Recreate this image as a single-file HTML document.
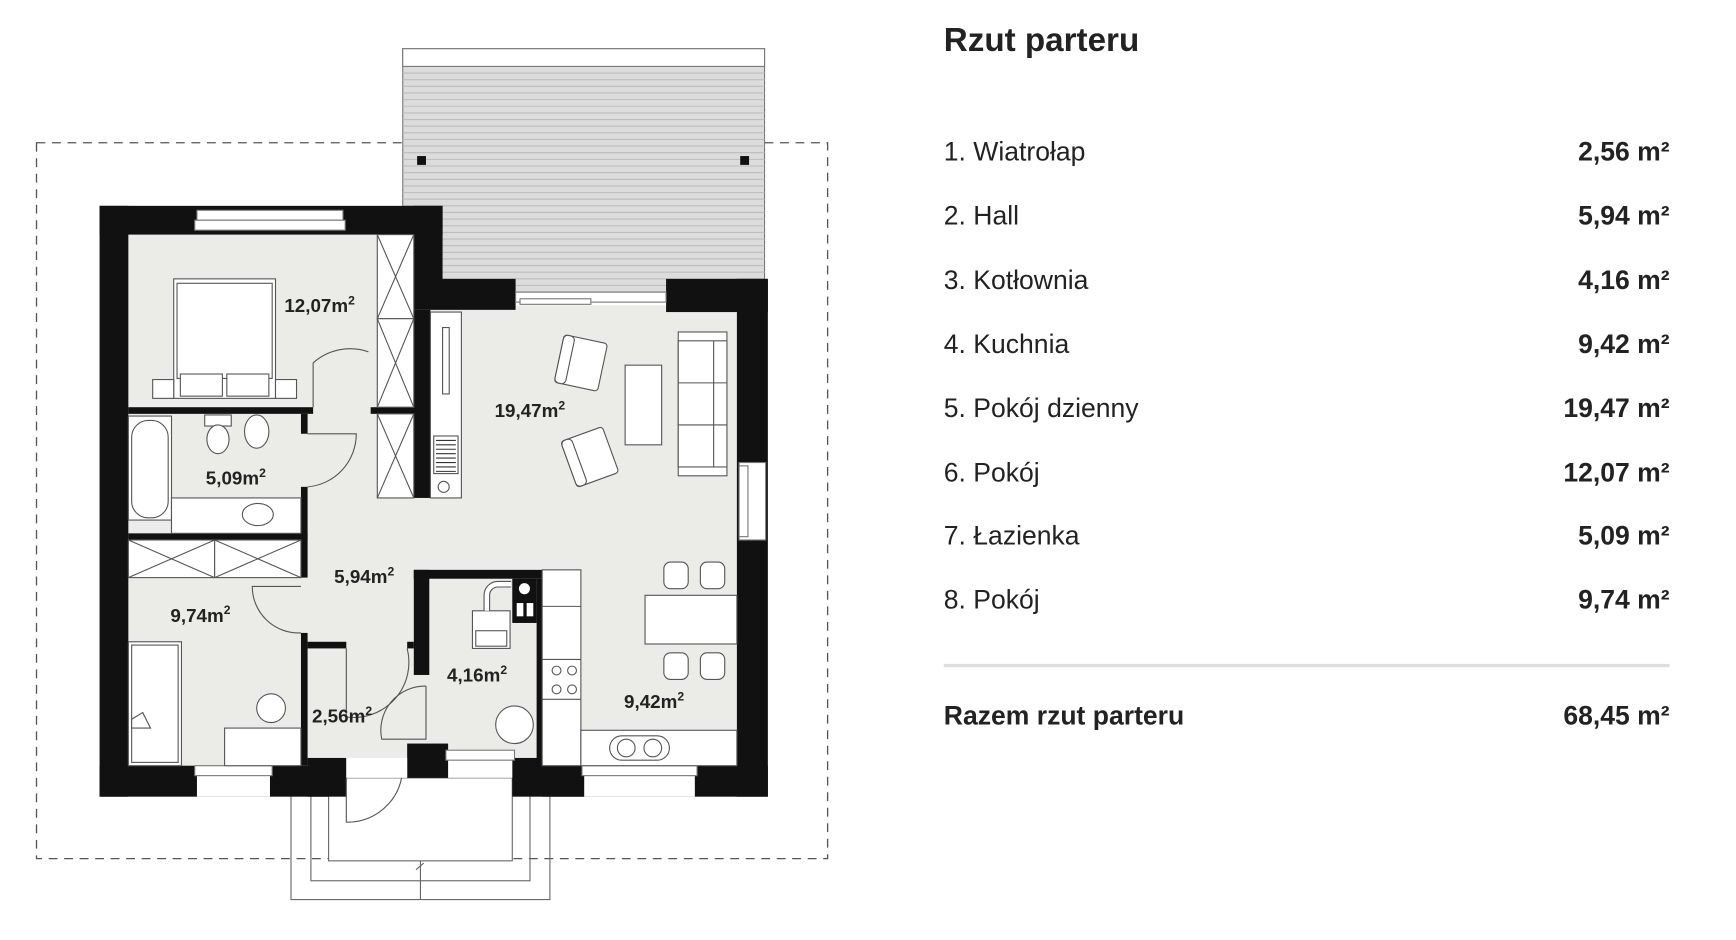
<!DOCTYPE html>
<html><head><meta charset="utf-8"><style>
html,body{margin:0;padding:0;background:#fff;}
svg{display:block;}
text{font-family:"Liberation Sans",sans-serif;}
</style></head><body>
<svg width="1736" height="940" viewBox="0 0 1569 849.5" xmlns="http://www.w3.org/2000/svg">
<rect width="1570" height="850" fill="#fff"/>
<!-- dashed roof outline -->
<rect x="33" y="129" width="715" height="647" fill="none" stroke="#555" stroke-width="1.2" stroke-dasharray="8,6"/>
<!-- terrace -->
<rect x="364" y="44" width="327" height="220" fill="#dcdcdc" stroke="#777" stroke-width="1"/>
<rect x="364" y="44" width="327" height="16" fill="#fff" stroke="#777" stroke-width="1"/>
<g stroke="#bdbdbd" stroke-width="1">
<line x1="364" y1="66" x2="691" y2="66"/><line x1="364" y1="72" x2="691" y2="72"/><line x1="364" y1="78" x2="691" y2="78"/><line x1="364" y1="84" x2="691" y2="84"/><line x1="364" y1="90" x2="691" y2="90"/><line x1="364" y1="96" x2="691" y2="96"/><line x1="364" y1="102" x2="691" y2="102"/><line x1="364" y1="108" x2="691" y2="108"/><line x1="364" y1="114" x2="691" y2="114"/><line x1="364" y1="120" x2="691" y2="120"/><line x1="364" y1="126" x2="691" y2="126"/><line x1="364" y1="132" x2="691" y2="132"/><line x1="364" y1="138" x2="691" y2="138"/><line x1="364" y1="144" x2="691" y2="144"/><line x1="364" y1="150" x2="691" y2="150"/><line x1="364" y1="156" x2="691" y2="156"/><line x1="364" y1="162" x2="691" y2="162"/><line x1="364" y1="168" x2="691" y2="168"/><line x1="364" y1="174" x2="691" y2="174"/><line x1="364" y1="180" x2="691" y2="180"/><line x1="364" y1="186" x2="691" y2="186"/><line x1="364" y1="192" x2="691" y2="192"/><line x1="364" y1="198" x2="691" y2="198"/><line x1="364" y1="204" x2="691" y2="204"/><line x1="364" y1="210" x2="691" y2="210"/><line x1="364" y1="216" x2="691" y2="216"/><line x1="364" y1="222" x2="691" y2="222"/><line x1="364" y1="228" x2="691" y2="228"/><line x1="364" y1="234" x2="691" y2="234"/><line x1="364" y1="240" x2="691" y2="240"/><line x1="364" y1="246" x2="691" y2="246"/><line x1="364" y1="252" x2="691" y2="252"/><line x1="364" y1="258" x2="691" y2="258"/>
</g>
<rect x="377" y="141" width="8" height="8" fill="#111"/><rect x="669" y="141" width="8" height="8" fill="#111"/>
<!-- porch -->
<g fill="none" stroke="#666" stroke-width="1">
<rect x="263" y="703" width="234" height="110"/>
<rect x="281" y="703" width="198" height="93"/>
<rect x="297" y="703" width="166" height="75" fill="#fff"/>
<line x1="380" y1="778" x2="380" y2="813"/><line x1="376" y1="786" x2="383" y2="780"/>
</g>
<!-- floor -->
<path d="M116 212H374V276H666V692H116Z" fill="#ebebe8"/>
<rect x="374" y="186" width="26" height="70" fill="#111"/>
<!-- outer walls -->
<g fill="#111">
<rect x="90" y="186" width="26" height="534"/>
<rect x="90" y="186" width="310" height="26"/>
<rect x="374" y="252" width="92" height="28"/>
<rect x="602" y="252" width="92" height="30"/>
<rect x="666" y="252" width="28" height="468"/>
<rect x="90" y="692" width="207" height="28"/>
<rect x="278" y="685" width="35" height="35"/>
<rect x="368" y="672" width="37" height="31"/>
<rect x="405" y="678" width="58" height="25"/>
<rect x="463" y="685" width="65" height="35"/>
<rect x="490" y="692" width="204" height="28"/>
<!-- interior -->
<rect x="116" y="368" width="167" height="6"/>
<rect x="335" y="368" width="54" height="6"/>
<rect x="374" y="280" width="15" height="170"/>
<rect x="272" y="374" width="6" height="18"/>
<rect x="272" y="440" width="6" height="48"/>
<rect x="116" y="482" width="162" height="6"/>
<rect x="272" y="488" width="6" height="34"/>
<rect x="272" y="572" width="6" height="120"/>
<rect x="278" y="580" width="35" height="6"/>
<rect x="368" y="580" width="6" height="6"/>
<rect x="374" y="515" width="14" height="95"/>
<rect x="374" y="515" width="116" height="8"/>
<rect x="485" y="523" width="5" height="169"/>
</g>
<!-- windows -->
<g fill="#fff" stroke="#777" stroke-width="1">
<rect x="178" y="190" width="132" height="9"/><rect x="176" y="199" width="136" height="9"/>
<rect x="466" y="264" width="136" height="9"/><rect x="470" y="270" width="64" height="5"/>
<rect x="668" y="418" width="24" height="70"/><rect x="668" y="421" width="8" height="64"/>
<rect x="178" y="700" width="66" height="20" stroke="none"/><rect x="176" y="692" width="70" height="9"/>
<rect x="405" y="686" width="58" height="17" stroke="none"/><rect x="403" y="678" width="62" height="9"/>
<rect x="528" y="700" width="100" height="20" stroke="none"/><rect x="526" y="692" width="104" height="9"/>
<rect x="313" y="685" width="55" height="18" stroke="none"/>
</g>
<!-- furniture -->
<g fill="#fff" stroke="#555" stroke-width="1">
<rect x="341" y="212" width="33" height="76"/><rect x="341" y="288" width="33" height="80"/><rect x="341" y="374" width="33" height="76"/>
<path d="M341 212L374 288M374 212L341 288M341 288L374 368M374 288L341 368M341 374L374 450M374 374L341 450"/>
<rect x="157" y="252" width="92" height="108"/><rect x="160" y="256" width="86" height="86"/>
<rect x="138" y="343" width="19" height="17"/><rect x="249" y="343" width="19" height="17"/>
<rect x="163" y="338" width="38" height="20"/><rect x="205" y="338" width="38" height="20"/>
<rect x="389" y="282" width="28" height="168"/><rect x="400" y="296" width="6" height="60"/>
<rect x="392" y="394" width="22" height="34" fill="#fff"/>
<path d="M394 398h18M394 402h18M394 406h18M394 410h18M394 414h18M394 418h18M394 422h18M394 426h18" stroke="#333"/>
<circle cx="401" cy="440" r="5" fill="#fff"/>
<rect x="116" y="376" width="39" height="94"/><rect x="119" y="380" width="33" height="88" rx="15"/>
<rect x="185" y="375" width="24" height="10"/><ellipse cx="197" cy="397" rx="10" ry="13"/>
<ellipse cx="232" cy="390" rx="11" ry="15"/>
<rect x="155" y="450" width="117" height="32"/><ellipse cx="233" cy="465" rx="14" ry="10"/>
<rect x="116" y="488" width="78" height="34"/><rect x="194" y="488" width="78" height="34"/>
<path d="M116 488L194 522M194 488L116 522M194 488L272 522M272 488L194 522"/>
<rect x="116" y="580" width="48" height="112"/><rect x="119" y="583" width="42" height="106"/>
<path d="M119 650l10 -6l7 14h-17z"/>
<rect x="203" y="658" width="69" height="34"/>
<ellipse cx="245" cy="640" rx="13" ry="13"/>
<g transform="rotate(12 525 328)"><rect x="505" y="306" width="40" height="44" rx="3"/><rect x="505" y="306" width="10" height="44" rx="4"/></g>
<g transform="rotate(-20 533 413)"><rect x="513" y="391" width="40" height="44" rx="3"/><rect x="513" y="391" width="10" height="44" rx="4"/></g>
<rect x="565" y="330" width="33" height="72"/>
<rect x="613" y="300" width="44" height="130"/><rect x="613" y="308" width="44" height="114"/>
<path d="M645 308v114M613 346h44M613 384h44"/>
<rect x="490" y="515" width="35" height="177"/><rect x="525" y="660" width="141" height="32"/>
<path d="M490 548h35M490 596h35M490 632h35"/>
<circle cx="503" cy="606" r="4"/><circle cx="517" cy="606" r="4"/><circle cx="503" cy="623" r="4"/><circle cx="517" cy="623" r="4"/>
<rect x="551" y="665" width="54" height="22" rx="11"/><ellipse cx="566" cy="676" rx="8" ry="8"/><ellipse cx="590" cy="676" rx="8" ry="8"/>
<rect x="583" y="538" width="83" height="44"/>
<rect x="600" y="508" width="22" height="24" rx="6"/><rect x="633" y="508" width="22" height="24" rx="6"/>
<rect x="600" y="590" width="22" height="24" rx="6"/><rect x="633" y="590" width="22" height="24" rx="6"/>
<rect x="427" y="552" width="34" height="34"/><rect x="430" y="570" width="28" height="14"/>
<path d="M440 552v-14a10 10 0 0 1 10 -10h12" stroke-width="6" stroke="#555" fill="none"/>
<path d="M440 552v-14a10 10 0 0 1 10 -10h12" stroke-width="4" stroke="#fff" fill="none"/>
<circle cx="465" cy="655" r="17"/>
<!-- door arcs -->
<path d="M283 368v-40a50 50 0 0 1 50 -10" fill="none"/>
<path d="M278 392h44a48 48 0 0 1 -44 48" fill="none"/>
<path d="M272 530h-44a42 42 0 0 0 44 42" fill="none"/>
<path d="M313 586v62a50 50 0 0 0 55 -62" fill="none"/>
<path d="M385 620v48h-40a40 40 0 0 1 40 -48" fill="none"/>
<path d="M313 703v40a50 50 0 0 0 50 -40" fill="none"/>
</g>
<rect x="463" y="523" width="22" height="40" fill="#111"/><circle cx="474" cy="532" r="5" fill="#fff"/>
<rect x="467" y="545" width="6" height="12" fill="#fff"/><rect x="476" y="545" width="6" height="12" fill="#fff"/>
<!-- room labels -->
<g font-size="17" font-weight="bold" fill="#222">
<text x="257" y="282">12,07m<tspan font-size="11" dy="-7">2</tspan></text>
<text x="447" y="377">19,47m<tspan font-size="11" dy="-7">2</tspan></text>
<text x="186" y="438">5,09m<tspan font-size="11" dy="-7">2</tspan></text>
<text x="302" y="527">5,94m<tspan font-size="11" dy="-7">2</tspan></text>
<text x="154" y="562">9,74m<tspan font-size="11" dy="-7">2</tspan></text>
<text x="404" y="616">4,16m<tspan font-size="11" dy="-7">2</tspan></text>
<text x="564" y="640">9,42m<tspan font-size="11" dy="-7">2</tspan></text>
<text x="282" y="653">2,56m<tspan font-size="11" dy="-7">2</tspan></text>
</g>
<!-- legend -->
<text x="853" y="46" font-size="30" font-weight="bold" fill="#222">Rzut parteru</text>
<g font-size="24" fill="#222">
<text x="853" y="145">1. Wiatrołap</text>
<text x="853" y="203">2. Hall</text>
<text x="853" y="261">3. Kotłownia</text>
<text x="853" y="319">4. Kuchnia</text>
<text x="853" y="377">5. Pokój dzienny</text>
<text x="853" y="435">6. Pokój</text>
<text x="853" y="492">7. Łazienka</text>
<text x="853" y="550">8. Pokój</text>
</g>
<g font-size="24" font-weight="bold" fill="#222" text-anchor="end">
<text x="1509" y="145">2,56 m²</text>
<text x="1509" y="203">5,94 m²</text>
<text x="1509" y="261">4,16 m²</text>
<text x="1509" y="319">9,42 m²</text>
<text x="1509" y="377">19,47 m²</text>
<text x="1509" y="435">12,07 m²</text>
<text x="1509" y="492">5,09 m²</text>
<text x="1509" y="550">9,74 m²</text>
<text x="1509" y="655">68,45 m²</text>
</g>
<rect x="853" y="600" width="656" height="3" fill="#dedede"/>
<text x="853" y="655" font-size="24" font-weight="bold" fill="#222">Razem rzut parteru</text>
</svg>
</body></html>
